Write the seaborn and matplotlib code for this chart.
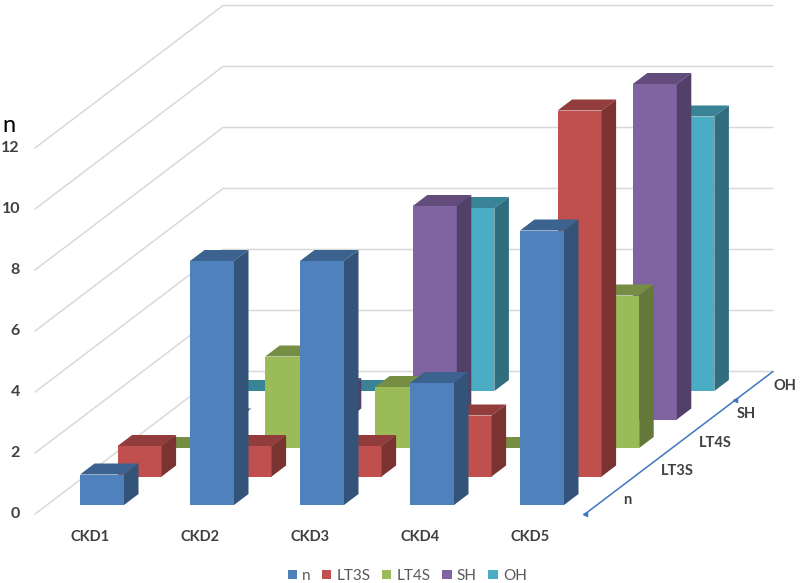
import numpy as np
import pandas as pd
import matplotlib
matplotlib.use('Agg')
import matplotlib.pyplot as plt
from matplotlib.patches import Patch, Polygon
import seaborn as sns


categories = ['CKD1', 'CKD2', 'CKD3', 'CKD4', 'CKD5']
series_names = ['n', 'LT3S', 'LT4S', 'SH', 'OH']
n_values = [1, 8, 8, 4, 9]
lt3s_values = [1, 1, 1, 2, 12]
lt4s_values = [0, 3, 2, 0, 5]
sh_values = [0, 1, 7, 0, 11]
oh_values = [0, 0, 6, 0, 9]
value_ticks = [0, 2, 4, 6, 8, 10, 12]
series_colors = ['#4F81BD', '#C0504D', '#9BBB59', '#8064A2', '#4BACC6']

# oblique projection, all in data units (1 category wide, 1 count high)
PX_X = 110.0
PX_Y = 30.5
STEP_X = 37.6 / PX_X
STEP_Y = 28.5 / PX_Y
BAR_W = 44.0 / PX_X
SIDE_X = 14.5 / PX_X
SIDE_Y = 11.0 / PX_Y
WALL_X = (35 - 102) / PX_X
FLOOR_Y = (505 - 514) / PX_Y
RIGHT_X = (585 - 102) / PX_X
GRID_COLOR = '#d9d9d9'
TEXT_COLOR = '#404040'


def shade(color, k):
    return tuple(np.array(matplotlib.colors.to_rgb(color)) * k)


def draw_series(ax, values, depth, color):
    x0 = np.arange(len(values)) + depth * STEP_X
    base = depth * STEP_Y
    z = 10 - depth
    df = pd.DataFrame({'x': x0, 'y': values})
    sns.barplot(data=df, x='x', y='y', native_scale=True, width=BAR_W,
                bottom=base, color=color, saturation=1, errorbar=None,
                linewidth=0, zorder=z, ax=ax)
    for x, v in zip(x0, values):
        left, right = x - BAR_W / 2, x + BAR_W / 2
        top = base + v
        ax.add_patch(Polygon([(left, top), (right, top),
                              (right + SIDE_X, top + SIDE_Y),
                              (left + SIDE_X, top + SIDE_Y)],
                             fc=shade(color, 0.76), ec='none', zorder=z))
        if v > 0:
            ax.add_patch(Polygon([(right, base), (right, top),
                                  (right + SIDE_X, top + SIDE_Y),
                                  (right + SIDE_X, base + SIDE_Y)],
                                 fc=shade(color, 0.64), ec='none', zorder=z))


def draw_walls(ax):
    back_x = WALL_X + 5 * STEP_X
    end_x = RIGHT_X + 5 * STEP_X
    for v in value_ticks:
        y = v + FLOOR_Y
        ax.plot([WALL_X, back_x, end_x], [y, y + 5 * STEP_Y, y + 5 * STEP_Y],
                color=GRID_COLOR, lw=1.1, zorder=1)
        ax.text((20 - 102) / PX_X, y, str(v), ha='right', va='center',
                fontsize=11.5, fontweight='bold', color=TEXT_COLOR)
    # depth axis on the floor
    depth = np.array([0, 5])
    ax.plot(RIGHT_X + depth * STEP_X, FLOOR_Y + depth * STEP_Y,
            color='#3F76C0', lw=1.1, zorder=2)
    ax.plot(RIGHT_X + np.array([0, 4]) * STEP_X,
            FLOOR_Y + np.array([0, 4]) * STEP_Y,
            ls='none', marker='<', ms=3, color='#3F76C0', zorder=2)


def draw_labels(ax):
    for i, name in enumerate(categories):
        ax.text(i - 0.11, -1.05, name, ha='center', va='center', fontsize=10.5,
                fontweight='bold', color=TEXT_COLOR)
    for d, name in enumerate(series_names):
        ax.text(RIGHT_X + (d + 0.5) * STEP_X + 0.18, FLOOR_Y + (d + 0.5) * STEP_Y,
                name, ha='left', va='center', fontsize=10.5,
                fontweight='bold', color=TEXT_COLOR)
    ax.text((9 - 102) / PX_X, 12.43, 'n', ha='center', va='center', fontsize=17,
            color='black')
    handles = [Patch(fc=c, ec='none') for c in series_colors]
    ax.legend(handles, series_names, ncol=5, loc='center',
              bbox_to_anchor=(0.509, 0.012), frameon=False, fontsize=11,
              handlelength=0.6, handleheight=0.6, handletextpad=0.35,
              columnspacing=0.75, labelcolor='#595959')


def main():
    sns.set_theme(style='white')
    plt.rcParams['font.family'] = ['Lato', 'DejaVu Sans']

    fig = plt.figure(figsize=(8, 5.83), dpi=100)
    ax = fig.add_axes([0, 0, 1, 1])

    draw_walls(ax)
    all_values = [n_values, lt3s_values, lt4s_values, sh_values, oh_values]
    for depth in range(4, -1, -1):
        draw_series(ax, all_values[depth], depth, series_colors[depth])
    draw_labels(ax)

    ax.set_xlim(-102 / PX_X, (800 - 102) / PX_X)
    ax.set_ylim((505 - 583) / PX_Y, 505 / PX_Y)
    ax.axis('off')
    fig.savefig('out.png', dpi=100)


if __name__ == '__main__':
    main()
